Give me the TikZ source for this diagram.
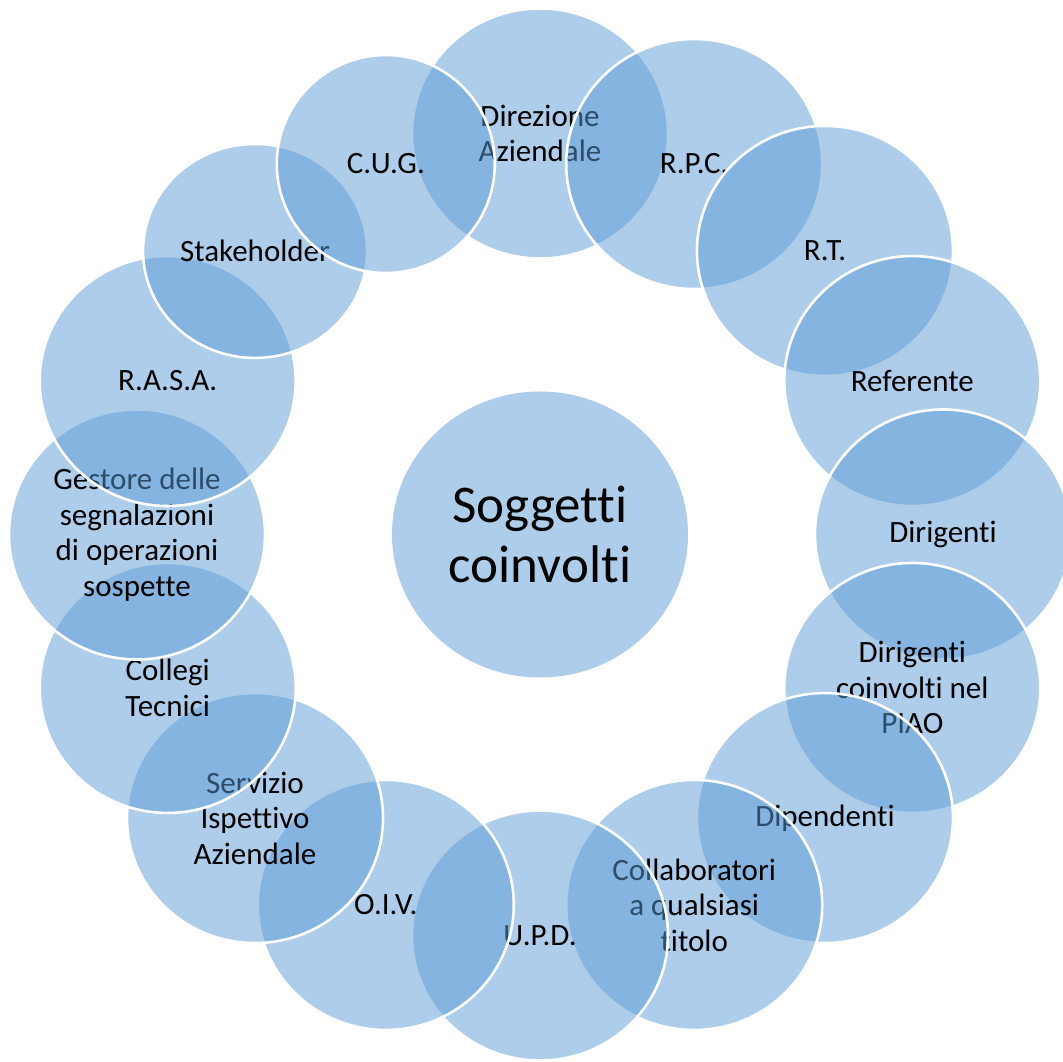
\documentclass[tikz,border=0pt]{standalone}
\usepackage{fontspec}
\setmainfont{Carlito}[Ligatures={NoCommon}]
\usetikzlibrary{calc}
\definecolor{accent}{RGB}{91,155,213}
\tikzset{
  ring/.style={fill=accent, fill opacity=0.5, draw=white, draw opacity=1, line width=2.6pt},
  hub/.style={fill=accent, fill opacity=0.5},
  lbl/.style={align=center, text=black, text opacity=1, inner sep=0pt,
    font=\fontsize{31}{35.5}\selectfont},
  hublbl/.style={align=center, text=black, text opacity=1, inner sep=0pt,
    font=\fontsize{53}{60}\selectfont}
}
\begin{document}
\begin{tikzpicture}[x=1pt,y=1pt]
\useasboundingbox (0,0) rectangle (1063,1062);
\clip (0,0) rectangle (1063,1062);
\coordinate (mid) at (540,527.5);
% central circle
\path[hub] (mid) ellipse [x radius=148, y radius=143];
\node[hublbl] (centre) at (mid) {Soggetti\\coinvolti};
% outer ring, clockwise from the top; each circle covers the previous one
\foreach \i/\rx/\ry/\txt in {
  1/128/125/{Direzione\\Aziendale},
  2/128/125/{R.P.C.},
  3/128/125/{R.T.},
  4/128/125/{Referente},
  5/128/125/{Dirigenti},
  6/128/125/{Dirigenti\\coinvolti nel\\PIAO},
  7/128/125/{Dipendenti},
  8/128/125/{Collaboratori\\a qualsiasi\\titolo},
  9/128/125/{U.P.D.},
  10/128/125/{O.I.V.},
  11/128/125/{Servizio\\Ispettivo\\Aziendale},
  12/128/125/{Collegi\\Tecnici},
  13/128/125/{Gestore delle\\segnalazioni\\di operazioni\\sospette},
  14/128/125/{R.A.S.A.},
  15/112/107/{Stakeholder},
  16/109/109/{C.U.G.}}{
  \pgfmathsetmacro{\ang}{90-22.5*(\i-1)}
  \coordinate (p\i) at ($(mid)+({403*cos(\ang)},{401*sin(\ang)})$);
  \path[ring] (p\i) ellipse [x radius=\rx, y radius=\ry];
  \node[lbl] (s\i) at (p\i) {\txt};
}
\end{tikzpicture}
\end{document}
